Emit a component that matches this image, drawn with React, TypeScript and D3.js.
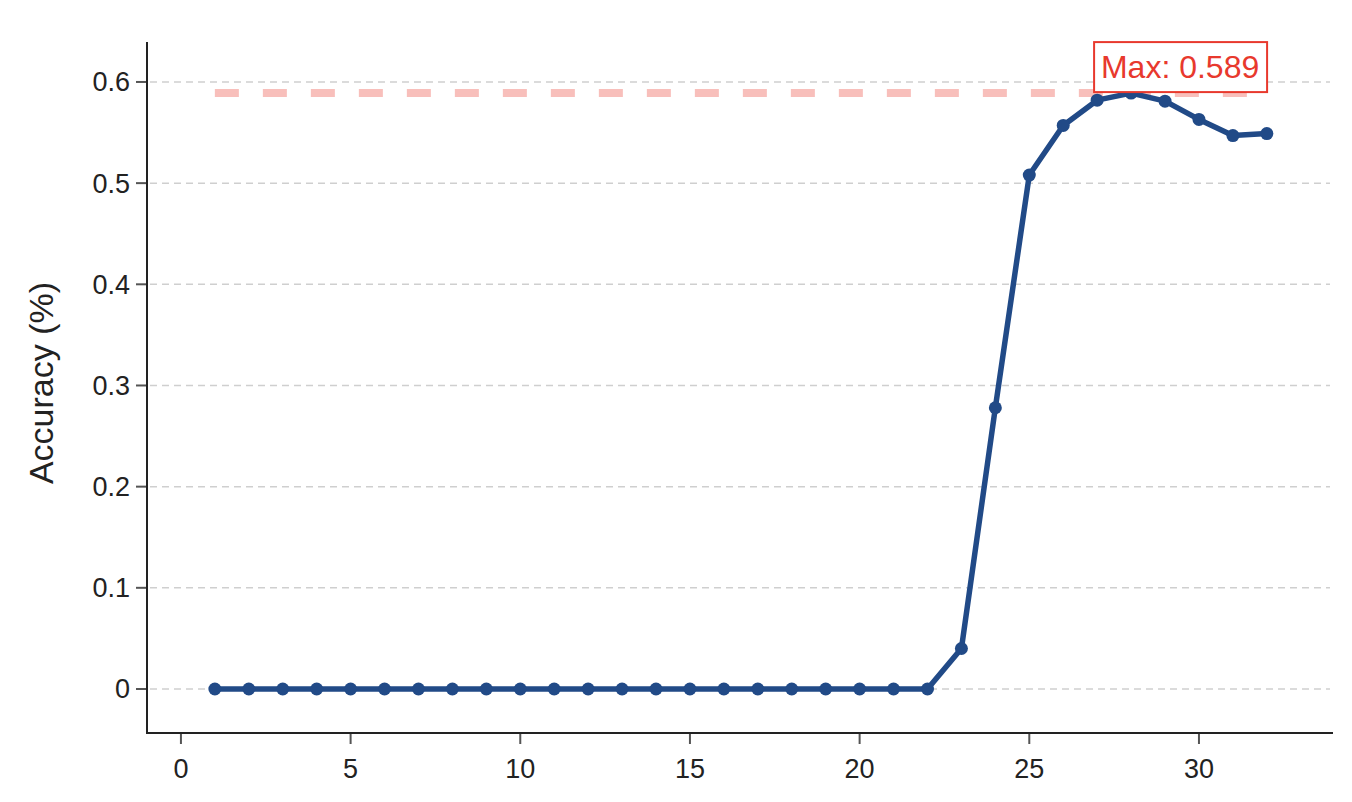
import React from "react";
import * as d3 from "d3";

const layers: number[] = Array.from({ length: 32 }, (_, i) => i + 1);
const accuracy: number[] = [
  0, 0, 0, 0, 0, 0, 0, 0, 0, 0, 0, 0, 0, 0, 0, 0, 0, 0, 0, 0, 0, 0,
  0.040, 0.278, 0.508, 0.557, 0.582, 0.589, 0.581, 0.563, 0.547, 0.549,
];
const xTicks: number[] = [0, 5, 10, 15, 20, 25, 30];
const yTicks: number[] = [0, 0.1, 0.2, 0.3, 0.4, 0.5, 0.6];
const yLabel = "Accuracy (%)";
const maxValue = 0.589;

const W = 1352;
const H = 802;
const FONT = "'Liberation Sans', Arial, Helvetica, sans-serif";

export default function App() {
  const x = d3.scaleLinear().domain([-1, 33.95]).range([147, 1333]);
  const y = d3.scaleLinear().domain([-0.0435, 0.6395]).range([733, 42]);
  const pts = layers.map((l, i) => [l, accuracy[i]] as [number, number]);
  const line = d3
    .line<[number, number]>()
    .x((d) => x(d[0]))
    .y((d) => y(d[1]));
  const maxIdx = accuracy.indexOf(d3.max(accuracy) as number);
  const annX = x(layers[maxIdx]) + 49;
  const annY = y(maxValue) - 15;

  return (
    <svg
      width={W}
      height={H}
      style={{ position: "absolute", left: 0, top: 0, background: "#fff" }}
    >
      {/* grid */}
      {yTicks.map((t) => (
        <line
          key={"g" + t}
          x1={150}
          x2={1330}
          y1={y(t)}
          y2={y(t)}
          stroke="#cfcfcf"
          strokeWidth={1.5}
          strokeDasharray="7 5"
        />
      ))}
      {/* max line */}
      <line
        x1={x(layers[0])}
        x2={x(layers[layers.length - 1])}
        y1={y(maxValue)}
        y2={y(maxValue)}
        stroke="#e8392d"
        strokeOpacity={0.32}
        strokeWidth={8}
        strokeDasharray="24 24"
      />
      {/* axes */}
      <line x1={147} x2={147} y1={42} y2={734} stroke="#222" strokeWidth={2} />
      <line x1={146} x2={1333} y1={733} y2={733} stroke="#222" strokeWidth={2} />
      {yTicks.map((t) => (
        <g key={"y" + t}>
          <line x1={136} x2={146} y1={y(t)} y2={y(t)} stroke="#555" strokeWidth={2} />
          <text
            x={130}
            y={y(t)}
            dy="0.35em"
            textAnchor="end"
            fontSize={27}
            fontFamily={FONT}
            fill="#222"
          >
            {d3.format("")(Math.round(t * 10) / 10)}
          </text>
        </g>
      ))}
      {xTicks.map((t) => (
        <g key={"x" + t}>
          <line x1={x(t)} x2={x(t)} y1={734} y2={744} stroke="#555" strokeWidth={2} />
          <text
            x={x(t)}
            y={778}
            textAnchor="middle"
            fontSize={27}
            fontFamily={FONT}
            fill="#222"
          >
            {t}
          </text>
        </g>
      ))}
      <text
        transform={`translate(53, 383) rotate(-90)`}
        textAnchor="middle"
        fontSize={34}
        fontFamily={FONT}
        fill="#222"
      >
        {yLabel}
      </text>
      {/* series */}
      <path
        d={line(pts) || ""}
        fill="none"
        stroke="#214a87"
        strokeWidth={5.5}
        strokeLinejoin="round"
      />
      {pts.map((p, i) => (
        <circle key={"c" + i} cx={x(p[0])} cy={y(p[1])} r={6.5} fill="#214a87" />
      ))}
      {/* annotation */}
      <rect
        x={annX - 86}
        y={annY - 36}
        width={173}
        height={50}
        fill="#fff"
        stroke="#e8392d"
        strokeWidth={2}
      />
      <text
        x={annX}
        y={annY}
        textAnchor="middle"
        fontSize={32}
        fontFamily={FONT}
        fill="#e8392d"
      >
        {`Max: ${maxValue}`}
      </text>
    </svg>
  );
}
